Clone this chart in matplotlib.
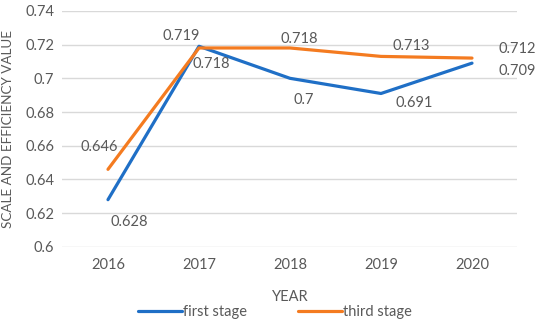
import numpy as np
import matplotlib
matplotlib.use('Agg')
import matplotlib.pyplot as plt
from matplotlib.ticker import FuncFormatter

# dados do grafico
years = ['2016', '2017', '2018', '2019', '2020']
first_stage = [0.628, 0.719, 0.700, 0.691, 0.709]
third_stage = [0.646, 0.718, 0.718, 0.713, 0.712]
first_labels = ['0.628', '0.719', '0.7', '0.691', '0.709']
third_labels = ['0.646', '0.718', '0.718', '0.713', '0.712']

plt.rcParams['font.family'] = ['Lato', 'DejaVu Sans']
cinza = '#595959'
azul = '#1F6FC6'
laranja = '#F47B20'

fig = plt.figure(figsize=(5.5, 3.27), dpi=100)
ax = fig.add_axes([0.1136, 0.245, 0.8273, 0.7217])

x = np.arange(len(years))
ax.plot(x, first_stage, color=azul, lw=2.3, label='first stage', solid_capstyle='round', zorder=3)
ax.plot(x, third_stage, color=laranja, lw=2.3, label='third stage', solid_capstyle='round', zorder=3)

# deslocamento dos rotulos (pixels)
off_first = [(21, -22), (-18, 10), (14, -22), (33, -10), (45, -8)]
off_third = [(-9, 22), (12, -16), (9, 9), (30, 10), (45, 9)]
for i in range(len(years)):
    ax.annotate(first_labels[i], (x[i], first_stage[i]), xytext=off_first[i],
                textcoords='offset pixels', ha='center', va='center', fontsize=10.5, color=cinza)
    ax.annotate(third_labels[i], (x[i], third_stage[i]), xytext=off_third[i],
                textcoords='offset pixels', ha='center', va='center', fontsize=10.5, color=cinza)

ax.set_xlim(-0.5, 4.5)
ax.set_ylim(0.6, 0.74)
ax.set_yticks(np.arange(0.6, 0.7401, 0.02))
ax.yaxis.set_major_formatter(FuncFormatter(lambda v, p: f'{round(v, 2):g}'))
ax.set_xticks(x)
ax.set_xticklabels(years)
ax.grid(axis='y', color='#D9D9D9', lw=1)
ax.set_axisbelow(True)
for s in ax.spines.values():
    s.set_visible(False)
ax.tick_params(length=0, labelsize=10.5, labelcolor=cinza, pad=8)
ax.tick_params(axis='y', pad=6)

ax.set_xlabel('YEAR', fontsize=10.5, color=cinza, labelpad=13)
ax.set_ylabel('SCALE AND EFFICIENCY VALUE', fontsize=9.7, color=cinza, labelpad=8)

leg = fig.legend(loc='lower center', bbox_to_anchor=(0.5, -0.015), ncol=2, frameon=False,
                 fontsize=10.5, handlelength=3.0, handletextpad=0.1, columnspacing=3.5)
for t in leg.get_texts():
    t.set_color(cinza)

fig.savefig('out.png', dpi=100)
